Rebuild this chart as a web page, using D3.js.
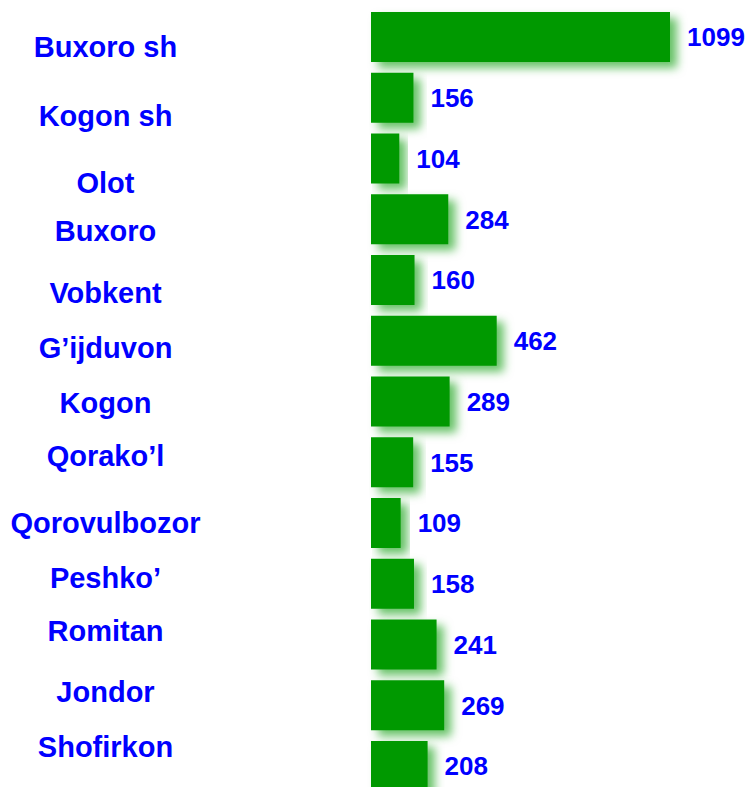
<!DOCTYPE html>
<html>
<head>
<meta charset="utf-8">
<script src="https://cdn.jsdelivr.net/npm/d3@7"></script>
<style>
  html, body { margin: 0; padding: 0; background: #ffffff; }
  svg { display: block; }
  text { font-family: Arial, "Liberation Sans", sans-serif; font-weight: bold; }
</style>
</head>
<body>
<svg id="chart" width="747" height="787"></svg>
<script>
// ---- data ----
const categories = ["Buxoro sh", "Kogon sh", "Olot", "Buxoro", "Vobkent", "G\u2019ijduvon", "Kogon", "Qorako\u2019l", "Qorovulbozor", "Peshko\u2019", "Romitan", "Jondor", "Shofirkon"];
const values = [1099, 156, 104, 284, 160, 462, 289, 155, 109, 158, 241, 269, 208];

// ---- layout (not data) ----
const W = 747, H = 787;
const barLeft = 371, barRightMax = 670;
const labelCenterX = 105.5;
// vertical nudge of category labels relative to bar centres, as in the original layout
const labelNudge = [9.9, 17.5, 23.8, 11, 12.9, 7.1, 1.4, -7, -0.1, -5.9, -14.2, -14, -19.7];

const svg = d3.select("#chart");

const defs = svg.append("defs");
const f = defs.append("filter").attr("id", "glow")
  .attr("x", "-20%").attr("y", "-60%").attr("width", "150%").attr("height", "230%");
f.append("feGaussianBlur").attr("in", "SourceAlpha").attr("stdDeviation", 5).attr("result", "b");
f.append("feOffset").attr("in", "b").attr("dx", 7).attr("dy", 6).attr("result", "o");
f.append("feFlood").attr("flood-color", "#009900").attr("flood-opacity", 0.6).attr("result", "c");
f.append("feComposite").attr("in", "c").attr("in2", "o").attr("operator", "in").attr("result", "s");
const m = f.append("feMerge");
m.append("feMergeNode").attr("in", "s");
m.append("feMergeNode").attr("in", "SourceGraphic");

const x = d3.scaleLinear().domain([0, d3.max(values)]).range([barLeft, barRightMax]);
const y = d3.scaleBand().domain(categories).range([12, 791]).paddingInner(0.177).paddingOuter(0);

const rows = categories.map((c, i) => ({ c, v: values[i], i }));

svg.append("g").selectAll("rect").data(rows).join("rect")
  .attr("x", x(0))
  .attr("y", d => y(d.c))
  .attr("width", d => x(d.v) - x(0))
  .attr("height", y.bandwidth())
  .attr("fill", "#009900")
  .attr("filter", "url(#glow)");

const valFont = 26;
svg.append("g").selectAll("text").data(rows).join("text")
  .attr("x", d => x(d.v) + 17)
  .attr("y", d => y(d.c) + y.bandwidth() / 2 + valFont * 0.36)
  .attr("fill", "#0000ff")
  .attr("font-size", valFont)
  .attr("text-anchor", "start")
  .text(d => d.v);

const labFont = 29;
svg.append("g").selectAll("text").data(rows).join("text")
  .attr("x", labelCenterX)
  .attr("y", d => y(d.c) + y.bandwidth() / 2 + labelNudge[d.i] + labFont * 0.36)
  .attr("fill", "#0000ff")
  .attr("font-size", labFont)
  .attr("text-anchor", "middle")
  .text(d => d.c);
</script>
</body>
</html>
